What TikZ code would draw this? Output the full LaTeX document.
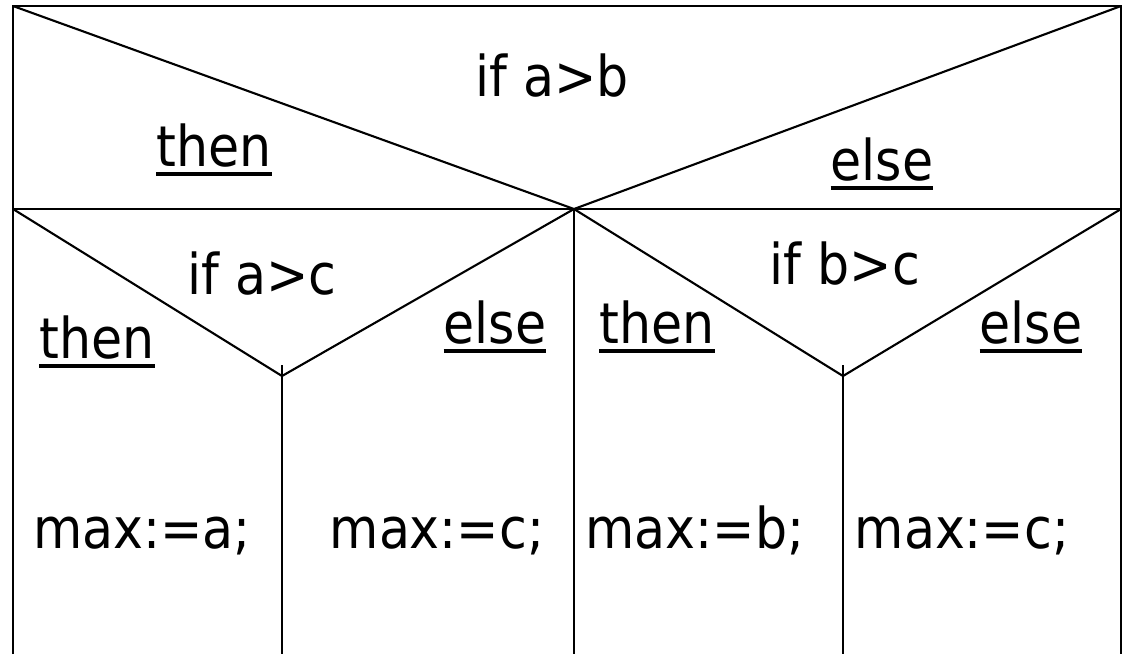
\documentclass[tikz,border=0pt]{standalone}
\usepackage{fontspec}
\setmainfont{DejaVu Sans Condensed}
\usepackage{tikz}
\newcommand\ulword[1]{\setbox0\hbox{#1}\rlap{\rule[-0.17em]{\wd0}{0.065em}}\box0}

\begin{document}
\begin{tikzpicture}[x=0.02cm,y=-0.02cm,line width=1.2pt,
  lbl/.style={anchor=base,inner sep=0pt,font=\fontsize{32}{40}\selectfont}]
\useasboundingbox (0,0) rectangle (1124,654);
% corners and joints
\coordinate (tl) at (13,6);
\coordinate (tr) at (1121,6);
\coordinate (ml) at (13,209);
\coordinate (mr) at (1121,209);
\coordinate (mc) at (574,209);
\coordinate (vl) at (282,376);
\coordinate (vr) at (843,376);
% frame
\draw (13,654) -- (tl) -- (tr) -- (1121,654);
\draw (ml) -- (mr);
\draw (tl) -- (mc) -- (tr);
\draw (mc) -- (574,654);
% inner branches
\draw (ml) -- (vl) -- (mc) -- (vr) -- (mr);
\draw (282,365) -- (282,654);
\draw (843,365) -- (843,654);
% labels
\node[lbl] (ifab) at (552,96) {if a>b};
\node[lbl] (thenab) at (214,166) {\ulword{then}};
\node[lbl] (elseab) at (882,180) {\ulword{else}};
\node[lbl] (ifac) at (262,294) {if a>c};
\node[lbl] (thenac) at (97,358) {\ulword{then}};
\node[lbl] (elseac) at (495,343) {\ulword{else}};
\node[lbl] (ifbc) at (845,284) {if b>c};
\node[lbl] (thenbc) at (657,343) {\ulword{then}};
\node[lbl] (elsebc) at (1031,343) {\ulword{else}};
\node[lbl] (maxa) at (142,548) {max:=a;};
\node[lbl] (maxc) at (437,548) {max:=c;};
\node[lbl] (maxb) at (695,548) {max:=b;};
\node[lbl] (maxcc) at (962,548) {max:=c;};
\end{tikzpicture}
\end{document}
